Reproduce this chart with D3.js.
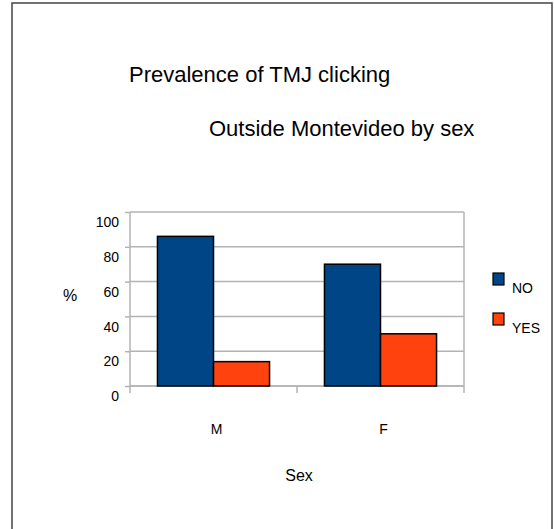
<!DOCTYPE html>
<html>
<head>
<meta charset="utf-8">
<script src="https://cdn.jsdelivr.net/npm/d3@7"></script>
<style>
  body { margin: 0; background: #fff; }
  svg { display: block; font-family: "Liberation Sans", Arial, sans-serif; }
</style>
</head>
<body>
<div id="chart"></div>
<script>
// chart data
const categories = ["M", "F"];
const seriesNames = ["NO", "YES"];
const noValues = [86, 70];
const yesValues = [14, 30];
const yTicks = [0, 20, 40, 60, 80, 100];
const colors = ["#004586", "#ff420e"];

const drawChart = () => {
  const width = 554;
  const height = 529;
  const plot = { left: 130, right: 464, top: 212, bottom: 386 };

  const rows = categories.map((c, i) => ({ cat: c, values: [noValues[i], yesValues[i]] }));

  const svg = d3.select("#chart")
                .append("svg")
                .attr("width", width)
                .attr("height", height);

  // outer frame
  svg.append("rect")
     .attr("x", 12).attr("y", 3)
     .attr("width", 540).attr("height", 540)
     .attr("fill", "none")
     .attr("stroke", "#444")
     .attr("stroke-width", 1.5);

  svg.append("text")
     .attr("x", 129).attr("y", 82)
     .attr("font-size", 22)
     .text("Prevalence of TMJ clicking");

  svg.append("text")
     .attr("x", 209).attr("y", 136)
     .attr("font-size", 22)
     .text("Outside Montevideo by sex");

  const xScale = d3.scaleBand()
                   .domain(categories)
                   .range([plot.left, plot.right]);

  const subScale = d3.scaleBand()
                     .domain(seriesNames)
                     .range([0, xScale.bandwidth()])
                     .paddingOuter(0.49);

  const yScale = d3.scaleLinear()
                   .domain([0, 100])
                   .range([plot.bottom, plot.top]);

  // gridlines
  svg.append("g")
     .selectAll("line")
     .data(yTicks)
     .enter()
     .append("line")
     .attr("x1", plot.left).attr("x2", plot.right)
     .attr("y1", (d) => yScale(d)).attr("y2", (d) => yScale(d))
     .attr("stroke", "#b3b3b3")
     .attr("stroke-width", 1.5);

  svg.append("line")
     .attr("x1", plot.right).attr("x2", plot.right)
     .attr("y1", plot.top).attr("y2", plot.bottom)
     .attr("stroke", "#b3b3b3")
     .attr("stroke-width", 1.5);

  // y axis
  const yAxis = svg.append("g")
                   .attr("transform", `translate(${plot.left},0)`)
                   .call(d3.axisLeft(yScale).tickValues(yTicks).tickSize(5).tickPadding(6));
  yAxis.selectAll("path, line").attr("stroke", "#b3b3b3").attr("stroke-width", 1.5);
  yAxis.select(".domain").attr("d", `M0,${plot.bottom}V${plot.top}`);
  yAxis.selectAll("text")
       .attr("font-size", 14)
       .attr("font-family", "Liberation Sans, Arial, sans-serif")
       .attr("fill", "#000")
       .attr("dy", "1.05em");

  // x axis
  const xAxis = svg.append("g")
                   .attr("transform", `translate(0,${plot.bottom})`)
                   .call(d3.axisBottom(xScale).tickSize(0).tickPadding(38));
  xAxis.selectAll("path").attr("stroke", "#b3b3b3").attr("stroke-width", 1.5)
       .attr("d", `M${plot.left},0H${plot.right}`);
  xAxis.selectAll("text")
       .attr("font-size", 14)
       .attr("font-family", "Liberation Sans, Arial, sans-serif")
       .attr("fill", "#000")
       .attr("dx", 3);

  const bounds = [plot.left].concat(categories.map((c) => xScale(c) + xScale.bandwidth()));
  xAxis.selectAll(".sep")
       .data(bounds)
       .enter()
       .append("line")
       .attr("x1", (d) => d).attr("x2", (d) => d)
       .attr("y1", 0).attr("y2", 7)
       .attr("stroke", "#b3b3b3")
       .attr("stroke-width", 1.5);

  // bars
  svg.append("g")
     .selectAll("g")
     .data(rows)
     .enter()
     .append("g")
     .attr("transform", (d) => `translate(${xScale(d.cat)},0)`)
     .selectAll("rect")
     .data((d) => d.values.map((v, i) => ({ key: seriesNames[i], value: v, i: i })))
     .enter()
     .append("rect")
     .attr("x", (d) => subScale(d.key))
     .attr("y", (d) => yScale(d.value))
     .attr("width", subScale.bandwidth())
     .attr("height", (d) => yScale(0) - yScale(d.value))
     .attr("fill", (d) => colors[d.i])
     .attr("stroke", "#000")
     .attr("stroke-width", 1.5);

  // axis titles
  svg.append("text")
     .attr("x", 70).attr("y", 301)
     .attr("text-anchor", "middle")
     .attr("font-size", 16)
     .text("%");

  svg.append("text")
     .attr("x", (plot.left + plot.right) / 2 + 2).attr("y", 481)
     .attr("text-anchor", "middle")
     .attr("font-size", 16)
     .text("Sex");

  // legend
  const legend = svg.append("g")
                    .selectAll("g")
                    .data(seriesNames)
                    .enter()
                    .append("g")
                    .attr("transform", (d, i) => `translate(493,${273 + i * 40})`);

  legend.append("rect")
        .attr("width", 11).attr("height", 12)
        .attr("fill", (d, i) => colors[i])
        .attr("stroke", "#000")
        .attr("stroke-width", 1.2);

  legend.append("text")
        .attr("x", 19).attr("y", 20)
        .attr("font-size", 14)
        .text((d) => d);
}

drawChart();
</script>
</body>
</html>
